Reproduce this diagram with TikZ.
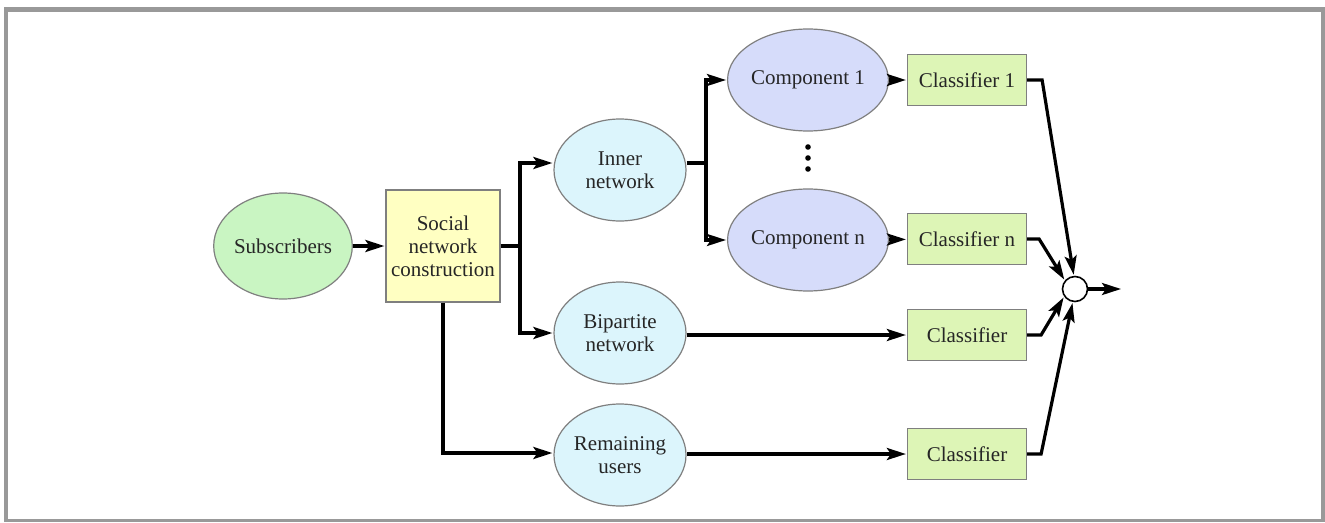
\documentclass[tikz,border=0pt]{standalone}
\usepackage{fontspec}
\newfontfamily\diafont{LiberationSerif}[Extension=.ttf, UprightFont=*-Regular]
\usetikzlibrary{shapes.geometric,arrows.meta,calc}
\definecolor{frameg}{HTML}{999999}
\definecolor{bordg}{HTML}{7F7F7F}
\definecolor{subgreen}{HTML}{C9F5C2}
\definecolor{socyel}{HTML}{FFFFC2}
\definecolor{netcyan}{HTML}{DCF5FC}
\definecolor{complav}{HTML}{D6DCFA}
\definecolor{clsgreen}{HTML}{DDF5B6}
\tikzset{
  txt/.style={font=\diafont\fontsize{21}{23}\selectfont, align=center, text=black!85},
  ell/.style={ellipse, draw=bordg, line width=1.2pt, inner sep=0pt, minimum width=132pt, minimum height=102pt, txt},
  boxc/.style={rectangle, draw=bordg, line width=1.2pt, fill=clsgreen, minimum width=119pt, minimum height=51pt, inner sep=0pt, txt},
  conn/.style={line width=3.2pt, -{Stealth[length=19pt,width=12pt,inset=4pt]}, shorten >=1pt},
  plain/.style={line width=3.2pt}
}
\begin{document}
\begin{tikzpicture}[x=1pt,y=-1pt]
\useasboundingbox (0,0) rectangle (1325,522);
% frame
\fill[frameg] (4,7) rectangle (1325,12);
\fill[frameg] (4,7) rectangle (8,522);
\fill[frameg] (1321,7) rectangle (1325,522);
\fill[frameg] (4,519) rectangle (1325,522);

% nodes
\node[ell, fill=subgreen, minimum width=136pt, minimum height=106pt] (sub) at (283,246) {Subscribers};
\node[rectangle, draw=bordg, line width=1.2pt, fill=socyel, minimum width=114pt, minimum height=112pt, inner sep=0pt, txt] (soc) at (443,246) {Social\\network\\construction};
\node[ell, fill=netcyan] (inner) at (620,170) {Inner\\network};
\node[ell, fill=netcyan] (bip) at (620,333) {Bipartite\\network};
\node[ell, fill=netcyan] (rem) at (620,455) {Remaining\\users};
\node[ell, fill=complav, minimum width=134pt] (c1) at (808,80) {Component 1};
\node[ell, fill=complav, minimum width=134pt] (cn) at (808,240) {Component n};
\node[boxc] (k1) at (967,80) {Classifier 1};
\node[boxc] (kn) at (967,239) {Classifier n};
\node[boxc] (kb) at (967,335) {Classifier};
\node[boxc] (kr) at (967,454) {Classifier};
\node[circle, draw=black, line width=1.6pt, fill=white, minimum size=25pt, inner sep=0pt] (sum) at (1075,289) {};
\coordinate (out) at (1122,289);

% dots
\foreach \yy in {147,158,169} \fill (808,\yy) circle (2.8pt);

% connectors
\draw[conn] (sub) -- (soc);
\coordinate (sj) at (520,246);
\draw[plain] (soc.east) -- (sj);
\draw[conn] (sj) |- (inner.west |- 0,163);
\draw[conn] (sj) |- (bip.west |- 0,333);
\draw[conn] (soc.south) |- (rem.west |- 0,453);

\coordinate (ij) at (706,163);
\draw[plain] ($(inner.east)+(0,-7)$) -- (ij);
\draw[conn] (ij) |- (c1.west);
\draw[conn] (ij) |- (cn.west);

\draw[conn] (c1) -- (k1);
\draw[conn] (cn) -- (kn);
\draw[conn] (bip.east |- kb.west) -- (kb.west);
\draw[conn] (rem.east |- kr.west) -- (kr.west);

\draw[conn] (k1.east) -- ++(15,0) -- (sum.95);
\draw[conn] (kn.east) -- ++(12,0) -- (sum.140);
\draw[conn] (kb.east) -- ++(14,0) -- (sum.215);
\draw[conn] (kr.east) -- ++(14,0) -- (sum.260);
\draw[conn] (sum.east) -- (out);
\end{tikzpicture}
\end{document}
